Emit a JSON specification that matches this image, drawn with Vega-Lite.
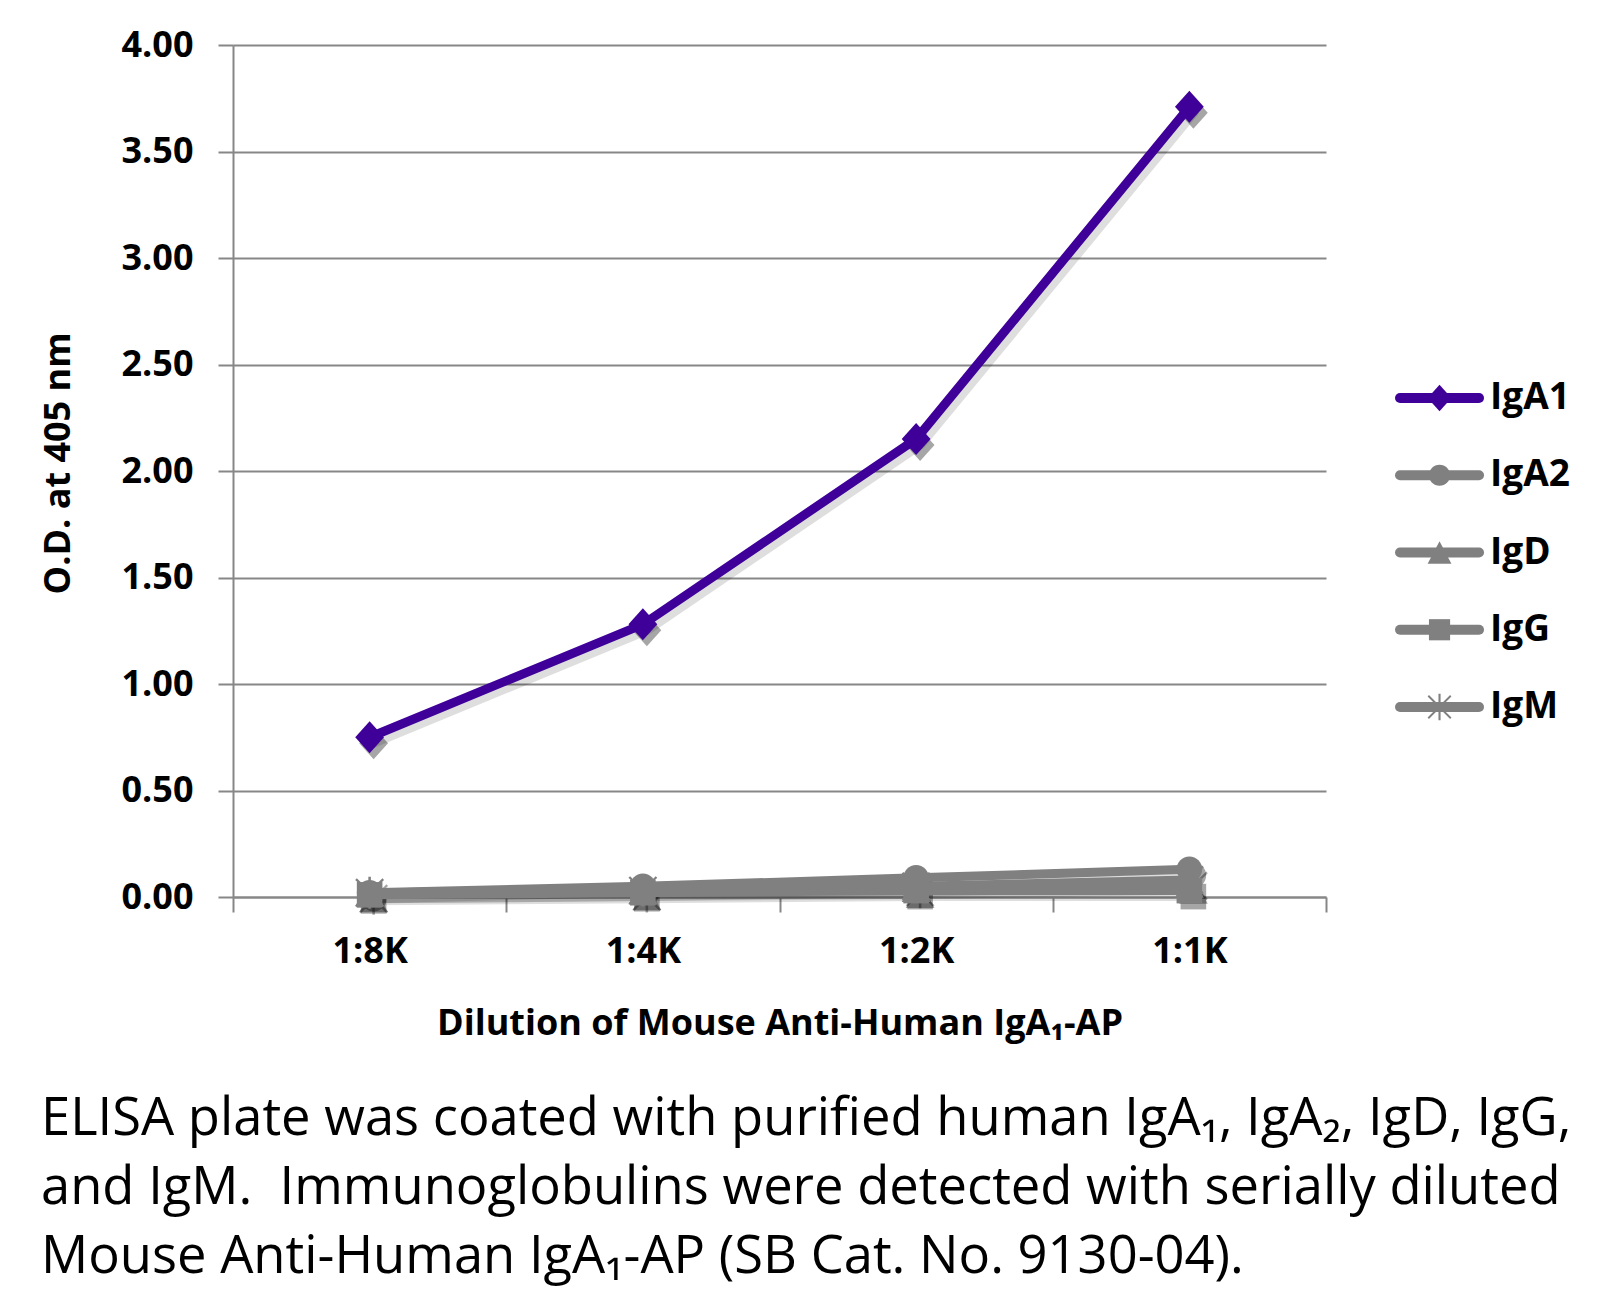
{
  "$schema": "https://vega.github.io/schema/vega-lite/v6.json",
  "width": 1093,
  "height": 852,
  "autosize": "none",
  "padding": {"left": 233, "top": 45, "right": 279, "bottom": 409},
  "background": "white",
  "config": {
    "view": {"stroke": null},
    "font": "Open Sans",
    "axis": {
      "labelFont": "Open Sans", "labelFontWeight": "bold", "labelFontSize": 36, "labelColor": "black",
      "titleFont": "Open Sans", "titleFontWeight": "bold", "titleFontSize": 36, "titleColor": "black",
      "domainColor": "#878787", "domainWidth": 2, "tickColor": "#878787", "tickWidth": 2, "tickSize": 15,
      "gridColor": "#878787", "gridWidth": 2
    }
  },
  "title": {
    "text": ["ELISA plate was coated with purified human IgA₁, IgA₂, IgD, IgG,", "and IgM.\u00a0 Immunoglobulins were detected with serially diluted", "Mouse Anti-Human IgA₁-AP (SB Cat. No. 9130-04)."],
    "orient": "bottom", "anchor": "start", "frame": "group", "dx": -192, "offset": 53,
    "font": "Open Sans", "fontSize": 52.5, "fontWeight": "normal", "lineHeight": 69, "color": "black", "baseline": "top"
  },
  "resolve": {"scale": {"x": "independent", "y": "independent"}},
  "layer": [
    {
      "data": {
        "values": [
          {"dilution": "1:8K", "series": "IgA1", "od": 0.75},
          {"dilution": "1:4K", "series": "IgA1", "od": 1.28},
          {"dilution": "1:2K", "series": "IgA1", "od": 2.15},
          {"dilution": "1:1K", "series": "IgA1", "od": 3.71},
          {"dilution": "1:8K", "series": "IgA2", "od": 0.02},
          {"dilution": "1:4K", "series": "IgA2", "od": 0.05},
          {"dilution": "1:2K", "series": "IgA2", "od": 0.09},
          {"dilution": "1:1K", "series": "IgA2", "od": 0.13},
          {"dilution": "1:8K", "series": "IgD", "od": 0.02},
          {"dilution": "1:4K", "series": "IgD", "od": 0.03},
          {"dilution": "1:2K", "series": "IgD", "od": 0.04},
          {"dilution": "1:1K", "series": "IgD", "od": 0.06},
          {"dilution": "1:8K", "series": "IgG", "od": 0.01},
          {"dilution": "1:4K", "series": "IgG", "od": 0.02},
          {"dilution": "1:2K", "series": "IgG", "od": 0.03},
          {"dilution": "1:1K", "series": "IgG", "od": 0.03},
          {"dilution": "1:8K", "series": "IgM", "od": 0.02},
          {"dilution": "1:4K", "series": "IgM", "od": 0.03},
          {"dilution": "1:2K", "series": "IgM", "od": 0.05},
          {"dilution": "1:1K", "series": "IgM", "od": 0.08}
        ]
      },
      "encoding": {
        "x": {
          "field": "dilution", "type": "ordinal", "sort": ["1:8K", "1:4K", "1:2K", "1:1K"],
          "scale": {"type": "band", "paddingInner": 0, "paddingOuter": 0},
          "axis": {"title": "Dilution of Mouse Anti-Human IgA₁-AP", "labelAngle": 0, "tickBand": "extent", "labelPadding": 22, "titlePadding": 37, "grid": false}
        },
        "y": {
          "field": "od", "type": "quantitative",
          "scale": {"domain": [0, 4], "nice": false},
          "axis": {"title": "O.D. at 405 nm", "values": [0, 0.5, 1, 1.5, 2, 2.5, 3, 3.5, 4], "format": ".2f", "labelPadding": 25, "grid": true,
                   "titleX": -175, "titleY": 418, "titleAngle": 270, "titleAlign": "center", "titleBaseline": "middle"}
        },
        "color": {
          "field": "series", "type": "nominal", "legend": null,
          "scale": {"domain": ["IgA1", "IgA2", "IgD", "IgG", "IgM"], "range": ["#3f0099", "#808080", "#808080", "#808080", "#808080"]}
        }
      },
      "layer": [
        {
          "mark": {"type": "line", "strokeWidth": 11, "strokeCap": "round", "strokeJoin": "round", "xOffset": 4, "yOffset": 5, "opacity": 0.13},
          "encoding": {"detail": {"field": "series"}, "color": {"value": "black"}}
        },
        {
          "mark": {"type": "point", "filled": true, "opacity": 0.35, "size": 1024, "xOffset": 4, "yOffset": 6},
          "encoding": {
            "color": {"value": "black"},
            "shape": {"field": "series", "type": "nominal", "legend": null}
          }
        },
        {
          "mark": {"type": "line", "strokeWidth": 9, "strokeCap": "round", "strokeJoin": "round"},
          "encoding": {"detail": {"field": "series"}}
        },
        {
          "mark": {"type": "point", "filled": true, "opacity": 1, "size": 1024},
          "encoding": {
            "shape": {
              "field": "series", "type": "nominal", "legend": null,
              "scale": {
                "domain": ["IgA1", "IgA2", "IgD", "IgG", "IgM"],
                "range": [
                  "M0,-1L0.9,0L0,1L-0.9,0Z",
                  "M-0.8,0A0.8,0.8 0 1 1 0.8,0A0.8,0.8 0 1 1 -0.8,0Z",
                  "M0,-0.85L0.9,0.85L-0.9,0.85Z",
                  "M-0.8,-0.8L0.8,-0.8L0.8,0.8L-0.8,0.8Z",
                  "M-0.08,-1L0.08,-1L0.08,1L-0.08,1ZM-0.8,-0.9L0.9,0.8L0.8,0.9L-0.9,-0.8ZM0.8,-0.9L0.9,-0.8L-0.8,0.9L-0.9,0.8Z"
                ]
              }
            }
          }
        }
      ]
    },
    {
      "data": {"values": [{"series": "IgA1"}, {"series": "IgA2"}, {"series": "IgD"}, {"series": "IgG"}, {"series": "IgM"}]},
      "encoding": {
        "y": {"field": "series", "type": "nominal", "sort": ["IgA1", "IgA2", "IgD", "IgG", "IgM"],
              "scale": {"type": "point", "padding": 0, "range": [353, 662]}, "axis": null},
        "color": {"field": "series", "type": "nominal", "legend": null}
      },
      "layer": [
        {
          "mark": {"type": "rule", "strokeWidth": 10, "strokeCap": "round"},
          "encoding": {
            "x": {"datum": 0, "type": "quantitative", "scale": {"domain": [-14.772, -0.937], "nice": false, "zero": false}, "axis": null},
            "x2": {"datum": 1}
          }
        },
        {
          "mark": {"type": "point", "filled": true, "opacity": 1, "size": 700},
          "encoding": {
            "x": {"datum": 0.5, "type": "quantitative"},
            "shape": {"field": "series", "type": "nominal", "legend": null}
          }
        },
        {
          "mark": {"type": "text", "align": "left", "baseline": "middle", "dx": 11, "font": "Open Sans", "fontWeight": "bold", "fontSize": 37},
          "encoding": {
            "x": {"datum": 1, "type": "quantitative"},
            "text": {"field": "series"},
            "color": {"value": "black"}
          }
        }
      ]
    }
  ]
}
